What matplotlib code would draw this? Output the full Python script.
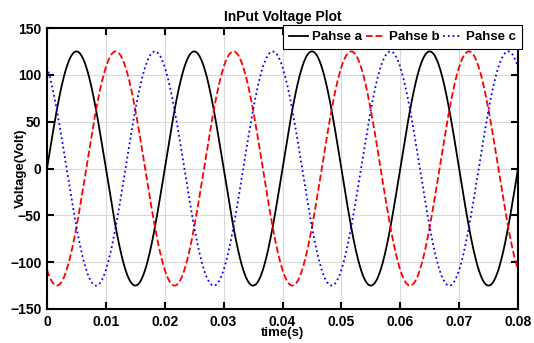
import numpy as np
import matplotlib
matplotlib.use("Agg")
import matplotlib.pyplot as plt

# values
amplitude = 125.0          # peak voltage (Volt)
freq_hz = 50.0             # one period every 0.02 s
phase_deg = [0, -120, 120]  # phase a, b, c
phase_names = ["Pahse a", "Pahse b", "Pahse c"]
t_end = 0.08

line_styles = [("black", "-"), ("red", "--"), ("blue", ":")]

plt.rcParams["font.family"] = ["Liberation Sans", "DejaVu Sans"]
plt.rcParams["font.weight"] = "bold"

t = np.linspace(0, t_end, 2000)

fig = plt.figure(figsize=(5.34, 3.43), dpi=100)
ax = fig.add_axes([47 / 534, 1 - 309 / 343, 471 / 534, 281 / 343])

for name, ph, (col, ls) in zip(phase_names, phase_deg, line_styles):
    v = amplitude * np.sin(2 * np.pi * freq_hz * t + np.deg2rad(ph))
    ax.plot(t, v, color=col, linestyle=ls, linewidth=1.3, label=name)

ax.set_xlim(0, t_end)
ax.set_ylim(-150, 150)
ax.set_xticks(np.arange(0, 0.081, 0.01))
ax.set_xticklabels(["0"] + [f"{x:.2f}" for x in np.arange(0.01, 0.081, 0.01)])
ax.set_yticks(np.arange(-150, 151, 50))
ax.grid(True, color="#d9d9d9", linewidth=0.8)
ax.tick_params(direction="in", top=True, right=True, length=5, width=1.5,
               labelsize=10, pad=4)
for s in ax.spines.values():
    s.set_linewidth(1.5)

ax.set_title("InPut Voltage Plot", fontsize=10, fontweight="bold", pad=5)
ax.set_xlabel("time(s)", fontsize=9.5, fontweight="bold", labelpad=-1)
ax.set_ylabel("Voltage(Volt)", fontsize=9.5, fontweight="bold", labelpad=-12)

leg = ax.legend(loc="upper right", ncol=3, bbox_to_anchor=(1.008, 1.01),
                fontsize=9.5, frameon=True, fancybox=False, handlelength=1.45,
                handletextpad=0.3, columnspacing=0.25, borderpad=0.45,
                borderaxespad=0)
leg.get_frame().set_edgecolor("black")
leg.get_frame().set_linewidth(0.8)
leg.get_frame().set_alpha(1)

fig.savefig("out.png", dpi=100)
